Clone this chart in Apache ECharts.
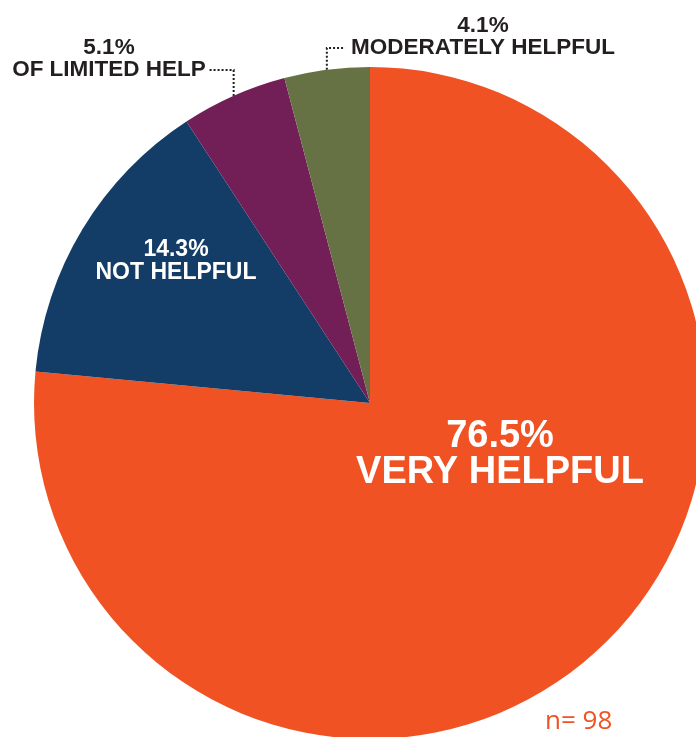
<!DOCTYPE html>
<html>
<head>
<meta charset="utf-8">
<script src="https://cdn.jsdelivr.net/npm/echarts@6/dist/echarts.min.js"></script>
<style>
html,body{margin:0;padding:0;background:#fff;}
#chart{width:696px;height:737px;}
</style>
</head>
<body>
<div id="chart"></div>
<script>
// ---- data ----
const categories = ['VERY HELPFUL', 'NOT HELPFUL', 'OF LIMITED HELP', 'MODERATELY HELPFUL'];
const percents = [76.5, 14.3, 5.1, 4.1];
const sampleNote = 'n= 98';

// ---- styles / layout ----
const sliceColors = ['#F05223', '#133D66', '#721E57', '#677244'];
const cx = 370, cy = 403, R = 336;
const darkText = '#231F20';
// label centers (layout only)
const labelSpec = [
  { x: 500, y: 455, size: 38, lh: 36, color: '#fff' },
  { x: 176, y: 261, size: 23, lh: 23, color: '#fff' },
  { x: 109, y: 59,  size: 22.5, lh: 22, color: darkText, side: 'left' },
  { x: 483, y: 37,  size: 22.5, lh: 22, color: darkText, side: 'right' }
];

const total = percents.reduce((a, b) => a + b, 0);
let acc = 0;
const midAngles = percents.map(p => { const m = acc + p / 2; acc += p; return m / total * 2 * Math.PI; });
function edgePoint(i) {
  const a = midAngles[i];
  return [cx + R * Math.sin(a), cy - R * Math.cos(a)];
}

const chart = echarts.init(document.getElementById('chart'), null, { renderer: 'canvas' });

const seriesData = categories.map((name, i) => {
  const s = labelSpec[i];
  const outside = !!s.side;
  return {
    name: name,
    value: percents[i],
    itemStyle: { color: sliceColors[i] },
    label: {
      position: outside ? 'outside' : 'inside',
      color: s.color,
      rich: {
        p: { fontSize: s.size, fontWeight: 'bold', color: s.color, lineHeight: s.lh, fontFamily: 'Liberation Sans', align: 'center' },
        n: { fontSize: s.size, fontWeight: 'bold', color: s.color, lineHeight: s.lh, fontFamily: 'Liberation Sans', align: 'center' }
      }
    },
    labelLine: {
      show: outside,
      lineStyle: { color: darkText, width: 2, type: [2, 2] }
    }
  };
});

const option = {
  backgroundColor: '#ffffff',
  animation: false,
  title: {
    text: sampleNote,
    left: 540,
    top: 704,
    textStyle: { color: '#F05223', fontSize: 26, fontWeight: 'normal', fontFamily: 'Open Sans' }
  },
  series: [{
    type: 'pie',
    center: [cx, cy],
    radius: R,
    startAngle: 90,
    clockwise: true,
    avoidLabelOverlap: false,
    itemStyle: { borderWidth: 0 },
    label: {
      show: true,
      formatter: function (p) {
        return '{p|' + p.value.toFixed(1) + '%}\n{n|' + p.name + '}';
      }
    },
    labelLayout: function (params) {
      const i = params.dataIndex;
      const s = labelSpec[i];
      const res = { x: s.x, y: s.y, align: 'center', verticalAlign: 'middle' };
      if (s.side) {
        const e = edgePoint(i);
        const lineY = s.y + s.lh / 2;
        const w = params.labelRect.width;
        const endX = s.side === 'left' ? s.x + w / 2 + 3 : s.x - w / 2 - 6;
        res.labelLinePoints = [e, [e[0], lineY], [endX, lineY]];
      }
      return res;
    },
    data: seriesData
  }]
};

chart.setOption(option);
</script>
</body>
</html>
